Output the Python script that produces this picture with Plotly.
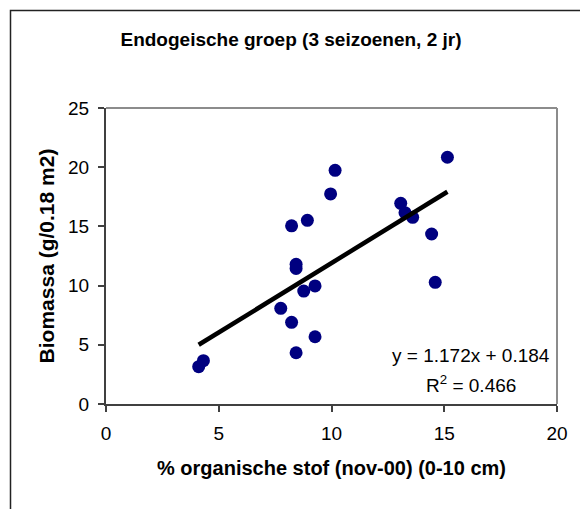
import plotly.graph_objects as go

# Organic matter content (%) and earthworm biomass per sample
organic_matter = [4.11, 4.32, 7.75, 8.23, 8.23, 8.43, 8.43, 8.43, 8.77, 8.93,
                  9.27, 9.27, 9.96, 10.16, 13.07, 13.26, 13.60, 14.44, 14.60, 15.14]
biomass = [3.15, 3.66, 8.08, 6.90, 15.05, 4.33, 11.80, 11.45, 9.54, 15.51,
           9.97, 5.68, 17.74, 19.74, 16.95, 16.16, 15.77, 14.36, 10.28, 20.84]

# Linear trendline
slope = 1.172
intercept = 0.184
r_squared = 0.466

x_ticks = [0, 5, 10, 15, 20]
y_ticks = [0, 5, 10, 15, 20, 25]

FONT = "Liberation Sans, Arial, sans-serif"

x_line = [min(organic_matter), max(organic_matter)]
y_line = [slope * v + intercept for v in x_line]

fig = go.Figure()
fig.add_trace(go.Scatter(
    x=organic_matter, y=biomass, mode="markers",
    marker=dict(size=13, color="#000080", line=dict(width=0)),
    showlegend=False, hoverinfo="x+y",
))
fig.add_trace(go.Scatter(
    x=x_line, y=y_line, mode="lines",
    line=dict(color="black", width=4.5),
    showlegend=False, hoverinfo="skip",
))

W, H = 580, 509
L, R, T, B = 106, 23, 108, 105
pw, ph = W - L - R, H - T - B


def px(xp):
    return (xp - L) / pw


def py(yp):
    return (H - B - yp) / ph


shapes = [
    # outer chart frame (left and top edges visible)
    dict(type="rect", xref="paper", yref="paper",
         x0=px(10.5), x1=px(620), y0=py(560), y1=py(10.5),
         line=dict(color="#222222", width=1.5), fillcolor="rgba(0,0,0,0)", layer="below"),
    # plot area border, top and right
    dict(type="line", xref="paper", yref="paper", x0=0, x1=1, y0=1, y1=1,
         line=dict(color="#8c8c8c", width=2)),
    dict(type="line", xref="paper", yref="paper", x0=1, x1=1, y0=0, y1=1,
         line=dict(color="#8c8c8c", width=2)),
]

eq_text = f"y = {slope:.3f}x + {intercept:.3f}"
r2_text = f"R<sup>2</sup> = {r_squared:.3f}"

annotations = [
    dict(text=eq_text, xref="paper", yref="paper", x=px(471), y=py(355),
         xanchor="center", yanchor="middle", showarrow=False,
         font=dict(family=FONT, size=19, color="black")),
    dict(text=r2_text, xref="paper", yref="paper", x=px(471), y=py(384),
         xanchor="center", yanchor="middle", showarrow=False,
         font=dict(family=FONT, size=19, color="black")),
]

fig.update_layout(
    width=W, height=H,
    margin=dict(l=L, r=R, t=T, b=B),
    paper_bgcolor="white", plot_bgcolor="white",
    font=dict(family=FONT, color="black"),
    title=dict(text="<b>Endogeische groep (3 seizoenen, 2 jr)</b>",
               x=291 / W, xref="container", xanchor="center",
               y=1 - 39 / H, yref="container", yanchor="middle",
               font=dict(family=FONT, size=19, color="black")),
    xaxis=dict(range=[0, 20], tickvals=x_ticks, ticktext=[str(v) for v in x_ticks],
               showgrid=False, zeroline=False, showline=True, linecolor="#404040", linewidth=2,
               ticks="outside", ticklen=6, tickcolor="#404040", tickwidth=1.5,
               ticklabelstandoff=5,
               tickfont=dict(family=FONT, size=19, color="black"),
               title=dict(text="<b>% organische stof (nov-00) (0-10 cm)</b>",
                          font=dict(family=FONT, size=20, color="black"), standoff=18)),
    yaxis=dict(range=[0, 25], tickvals=y_ticks, ticktext=[str(v) for v in y_ticks],
               showgrid=False, zeroline=False, showline=True, linecolor="#404040", linewidth=2,
               ticks="outside", ticklen=6, tickcolor="#404040", tickwidth=1.5,
               ticklabelstandoff=5,
               tickfont=dict(family=FONT, size=19, color="black"),
               title=dict(text="<b>Biomassa (g/0.18 m2)</b>",
                          font=dict(family=FONT, size=21, color="black"), standoff=8)),
    shapes=shapes,
    annotations=annotations,
)

fig.write_html("out.html")
